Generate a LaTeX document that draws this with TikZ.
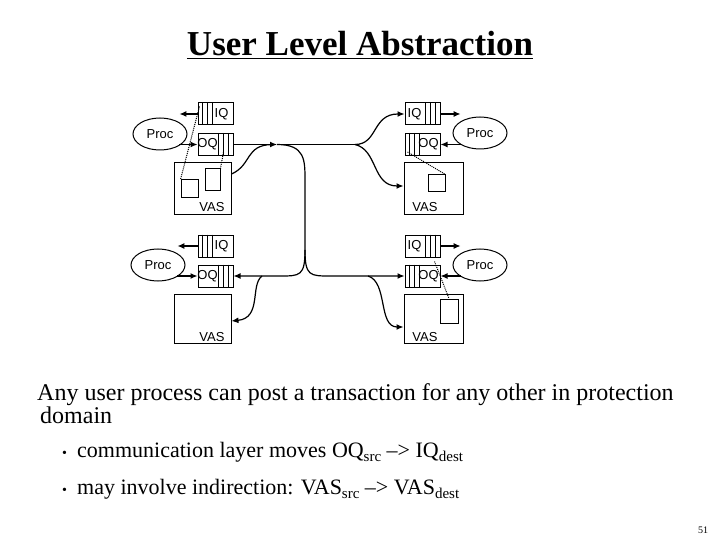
\documentclass[tikz,border=0pt]{standalone}
\usepackage{fontspec}
\setmainfont{Liberation Serif}
\newfontfamily\sfx{Liberation Sans}
\usetikzlibrary{shapes.geometric,arrows.meta}
\newcommand{\subx}[1]{\raisebox{-4pt}{\fontsize{15}{15}\selectfont #1}}
\begin{document}
\begin{tikzpicture}[x=1pt,y=-1pt,
  box/.style={draw,line width=1pt,inner sep=0pt},
  q/.style={box,minimum width=35pt,minimum height=22pt},
  lbl/.style={font=\sfx\fontsize{13}{13}\selectfont,inner sep=0pt},
  proc/.style={draw,line width=1pt,ellipse,minimum width=54pt,minimum height=32pt,inner sep=0pt,font=\sfx\fontsize{13}{13}\selectfont},
  wire/.style={line width=1.2pt},
  arr/.style={wire,-{Latex[length=7pt,width=6pt]}},
  dot/.style={line width=1pt,densely dotted}]
\useasboundingbox (0,0) rectangle (720,540);
\node[font=\bfseries\fontsize{35}{35}\selectfont,inner sep=0pt] (title) at (360,45) {\underline{User Level Abstraction}};
% queues: left stripes (L) or right stripes (R)
\newcommand{\qL}[4]{\node[q] (#1) at (#2,#3) {};
  \foreach \d in {5,10,15}{\draw[line width=0.8pt] ([xshift=\d pt]#1.north west) -- ([xshift=\d pt]#1.south west);}
  \node[lbl] (#1t) at ([xshift=6pt]#1.center) {#4};}
\newcommand{\qR}[4]{\node[q] (#1) at (#2,#3) {};
  \foreach \d in {5,10,15}{\draw[line width=0.8pt] ([xshift=-\d pt]#1.north east) -- ([xshift=-\d pt]#1.south east);}
  \node[lbl] (#1t) at ([xshift=-8pt]#1.center) {#4};}
% top-left
\qL{iq1}{215.5}{114}{IQ}
\qR{oq1}{215.5}{144.5}{OQ}
\node[proc] (p1) at (160,134) {Proc};
\node[box,minimum width=57pt,minimum height=52pt] (v1) at (202.5,189) {};
\node[lbl] (v1t) at (212,207) {VAS};
\node[box,minimum width=17pt,minimum height=18pt] (s1a) at (189.5,189) {};
\node[box,minimum width=15pt,minimum height=22pt] (s1b) at (212.5,180) {};
% top-right
\qR{iq2}{422.5}{114}{IQ}
\qL{oq2}{422.5}{144.5}{OQ}
\node[proc] (p2) at (480,133) {Proc};
\node[box,minimum width=59pt,minimum height=52pt] (v2) at (433.5,189) {};
\node[lbl] (v2t) at (425,207) {VAS};
\node[box,minimum width=17pt,minimum height=17pt] (s2) at (436.5,183.5) {};
% bottom-left
\qL{iq3}{215.5}{246}{IQ}
\qR{oq3}{215.5}{276}{OQ}
\node[proc] (p3) at (158,265) {Proc};
\node[box,minimum width=57pt,minimum height=49pt] (v3) at (202.5,318.5) {};
\node[lbl] (v3t) at (212,337) {VAS};
% bottom-right
\qR{iq4}{422.5}{246}{IQ}
\qL{oq4}{422.5}{276}{OQ}
\node[proc] (p4) at (480,265) {Proc};
\node[box,minimum width=59pt,minimum height=49pt] (v4) at (433.5,318.5) {};
\node[lbl] (v4t) at (425,337) {VAS};
\node[box,minimum width=18pt,minimum height=24pt] (s4) at (449,311) {};
% proc <-> queues
\draw[arr] (iq1.west) -- (iq1.west -| p1.north east);
\draw[arr] (oq1.west -| p1.south east) -- (oq1.west);
\draw[arr] (iq2.east) -- (iq2.east -| p2.north west);
\draw[arr] (oq2.east -| p2.south west) -- (oq2.east);
\draw[arr] (iq3.west) -- (iq3.west -| p3.north east);
\draw[arr] (oq3.west -| p3.south east) -- (oq3.west);
\draw[arr] (iq4.east) -- (iq4.east -| p4.north west);
\draw[arr] (oq4.east -| p4.south west) -- (oq4.east);
% dotted mappings
\draw[dot] ([xshift=2pt,yshift=-4pt]iq1.north west) -- (s1a.north west);
\draw[dot] ([xshift=-10pt,yshift=4pt]oq1.south east) -- (s1b.north east);
\draw[dot] ([xshift=3pt,yshift=4pt]oq2.south west) -- (s2.north east);
\draw[dot] ([xshift=-6pt,yshift=-4pt]iq4.south east) -- (s4.north);
% communication network
\coordinate (m) at (277,144.5);
\coordinate (sp) at (355,144.5);
\coordinate (bb) at (305,250);
\draw[arr] (oq1.east) -- (m);
\draw[wire] (m) -- (sp);
\draw[arr] (sp) .. controls (378,144.5) and (372,114) .. (iq2.west);
\draw[arr] (sp) .. controls (378,150) and (372,186) .. (v2.west |- 0,186);
\draw[wire] (v1.east |- 0,174) .. controls (252,165) and (245,145) .. (272,144.5);
\draw[wire] (m) .. controls (305,144.5) and (305,160) .. (305,180) -- (bb);
\draw[arr] (bb) .. controls (305,276) and (300,276) .. (280,276) -- (oq3.east);
\draw[arr] (bb) .. controls (305,276) and (310,276) .. (330,276) -- (oq4.west);
\draw[arr] (262,276) .. controls (250,285) and (262,318) .. (v3.east |- 0,321);
\draw[arr] (368,276) .. controls (388,282) and (378,327) .. (v4.west |- 0,327);
% body text
\node[anchor=base west,inner sep=0pt,font=\fontsize{24}{24}\selectfont] (t1) at (37,400) {Any user process can post a transaction for any other in protection};
\node[anchor=base west,inner sep=0pt,font=\fontsize{24}{24}\selectfont] (t2) at (40,423) {domain};
\node[anchor=base west,inner sep=0pt,font=\fontsize{14}{14}\selectfont] (b1) at (62,457) {•};
\node[anchor=base west,inner sep=0pt,font=\fontsize{22}{22}\selectfont] (t3) at (77,457) {communication layer moves OQ\subx{src} --> IQ\subx{dest}};
\node[anchor=base west,inner sep=0pt,font=\fontsize{14}{14}\selectfont] (b2) at (62,494) {•};
\node[anchor=base west,inner sep=0pt,font=\fontsize{22}{22}\selectfont] (t4) at (77,494) {may involve indirection: VAS\subx{src} --> VAS\subx{dest}};
\node[inner sep=0pt,font=\fontsize{10}{10}\selectfont] (pg) at (703,530) {51};
\end{tikzpicture}
\end{document}
